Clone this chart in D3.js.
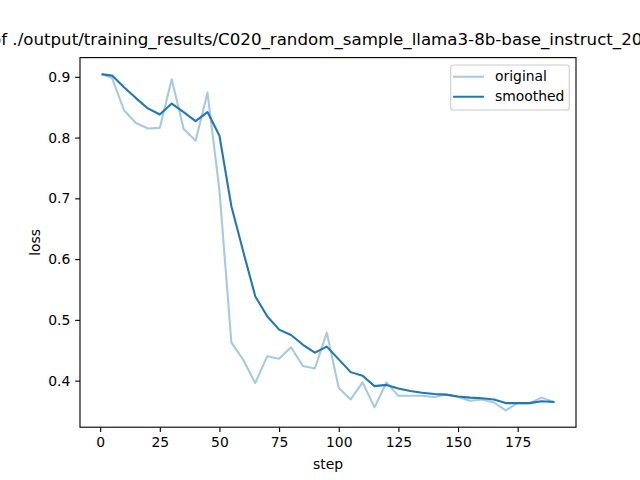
<!DOCTYPE html>
<html>
<head>
<meta charset="utf-8">
<script src="https://cdn.jsdelivr.net/npm/d3@7"></script>
<style>
  body { margin: 0; background: #fff; }
  text { font-family: "DejaVu Sans", sans-serif; fill: #000; }
</style>
</head>
<body>
<div class="canvas"></div>
<script>
var steps = [1, 5, 10, 15, 20, 25, 30, 35, 40, 45, 50, 55, 60, 65, 70, 75, 80, 85, 90, 95,
             100, 105, 110, 115, 120, 125, 130, 135, 140, 145, 150, 155, 160, 165, 170, 175, 180, 185, 190];
var original = [0.904, 0.898, 0.845, 0.824, 0.815, 0.816, 0.896, 0.814, 0.795, 0.874,
                0.713, 0.463, 0.434, 0.396, 0.440, 0.436, 0.455, 0.424, 0.420, 0.479,
                0.388, 0.369, 0.397, 0.356, 0.397, 0.375, 0.375, 0.375, 0.373, 0.377,
                0.373, 0.367, 0.369, 0.364, 0.351, 0.363, 0.363, 0.372, 0.365];
var smoothed = [0.904, 0.902, 0.883, 0.865, 0.848, 0.838, 0.856, 0.842, 0.827, 0.842,
                0.803, 0.687, 0.612, 0.539, 0.506, 0.484, 0.475, 0.459, 0.446, 0.456,
                0.435, 0.414, 0.408, 0.391, 0.393, 0.387, 0.383, 0.380, 0.378, 0.377,
                0.374, 0.372, 0.371, 0.369, 0.363, 0.363, 0.363, 0.366, 0.365];
var xTicks = [0, 25, 50, 75, 100, 125, 150, 175];
var yTicks = [0.4, 0.5, 0.6, 0.7, 0.8, 0.9];
var seriesNames = ['original', 'smoothed'];
var titlePrefix = 'Training Loss o';
var titleText = 'Training Loss of ./output/training_results/C020_random_sample_llama3-8b-base_instruct_20240505_130331';

drawChart();

function drawChart(){

  var width = 640, height = 480;
  var axLeft = 80, axRight = 576, axTop = 57.6, axBottom = 427.2;
  var blue = '#1f77b4';
  var tickLen = 4.86, fs = 13.9;

  var svg = d3.select('.canvas')
                .append('svg')
                  .attr('width', width)
                  .attr('height', height);

  // matplotlib style 5% margins
  var xPad = (d3.max(steps) - d3.min(steps)) * 0.05;
  var x = d3.scaleLinear()
              .domain([d3.min(steps) - xPad, d3.max(steps) + xPad])
              .range([axLeft, axRight]);
  var allY = original.concat(smoothed);
  var yPad = (d3.max(allY) - d3.min(allY)) * 0.05;
  var y = d3.scaleLinear()
              .domain([d3.min(allY) - yPad, d3.max(allY) + yPad])
              .range([axBottom, axTop]);

  var xAxis = svg.append('g')
      .attr('transform', 'translate(0,' + axBottom + ')')
      .call(d3.axisBottom(x).tickValues(xTicks).tickFormat(d3.format('d'))
            .tickSize(tickLen).tickPadding(tickLen).tickSizeOuter(0));
  var yAxis = svg.append('g')
      .attr('transform', 'translate(' + axLeft + ',0)')
      .call(d3.axisLeft(y).tickValues(yTicks).tickFormat(d3.format('.1f'))
            .tickSize(tickLen).tickPadding(tickLen).tickSizeOuter(0));

  [xAxis, yAxis].forEach(function(a){
    a.select('.domain').remove();
    a.selectAll('line').attr('stroke', '#000').attr('stroke-width', 1.11);
    a.selectAll('text').attr('font-size', fs).attr('font-family', '"DejaVu Sans", sans-serif').attr('fill', '#000');
  });

  var line = d3.line()
      .x(function(d, i){ return x(steps[i]); })
      .y(function(d){ return y(d); });

  svg.append('path')
      .datum(original)
      .attr('d', line)
      .attr('fill', 'none')
      .attr('stroke', blue)
      .attr('stroke-opacity', 0.4)
      .attr('stroke-width', 2.08)
      .attr('stroke-linejoin', 'round')
      .attr('stroke-linecap', 'square');

  svg.append('path')
      .datum(smoothed)
      .attr('d', line)
      .attr('fill', 'none')
      .attr('stroke', blue)
      .attr('stroke-width', 2.08)
      .attr('stroke-linejoin', 'round')
      .attr('stroke-linecap', 'square');

  // spines
  svg.append('rect')
      .attr('x', axLeft).attr('y', axTop)
      .attr('width', axRight - axLeft).attr('height', axBottom - axTop)
      .attr('fill', 'none')
      .attr('stroke', '#000')
      .attr('stroke-width', 1.11);

  // axis labels
  svg.append('text')
      .attr('x', (axLeft + axRight) / 2).attr('y', 469)
      .attr('text-anchor', 'middle')
      .attr('font-size', fs)
      .text('step');

  svg.append('text')
      .attr('transform', 'translate(40,' + (axTop + axBottom) / 2 + ') rotate(-90)')
      .attr('text-anchor', 'middle')
      .attr('font-size', fs)
      .text('loss');

  // title is wider than the figure, so it is cut at both sides like the original
  var title = svg.append('text')
      .attr('y', 45)
      .attr('font-size', 16.67)
      .text(titleText);
  var probe = svg.append('text').attr('font-size', 16.67).text(titlePrefix);
  var prefixW = probe.node().getComputedTextLength();
  probe.remove();
  title.attr('x', 1.2 - prefixW);

  // legend
  var legend = svg.append('g');
  legend.append('rect')
      .attr('x', 450.7).attr('y', 65)
      .attr('width', 118.6).attr('height', 45)
      .attr('rx', 2.8)
      .attr('fill', '#fff').attr('fill-opacity', 0.8)
      .attr('stroke', '#cccccc').attr('stroke-width', 1.11);

  seriesNames.forEach(function(name, i){
    var ly = 76.7 + i * 20;
    legend.append('line')
        .attr('x1', 454).attr('x2', 483)
        .attr('y1', ly).attr('y2', ly)
        .attr('stroke', blue)
        .attr('stroke-opacity', i === 0 ? 0.4 : 1)
        .attr('stroke-width', 2.08)
        .attr('stroke-linecap', 'square');
    legend.append('text')
        .attr('x', 495).attr('y', ly)
        .attr('dy', '0.3em')
        .attr('font-size', fs)
        .text(name);
  });
}
</script>
</body>
</html>
